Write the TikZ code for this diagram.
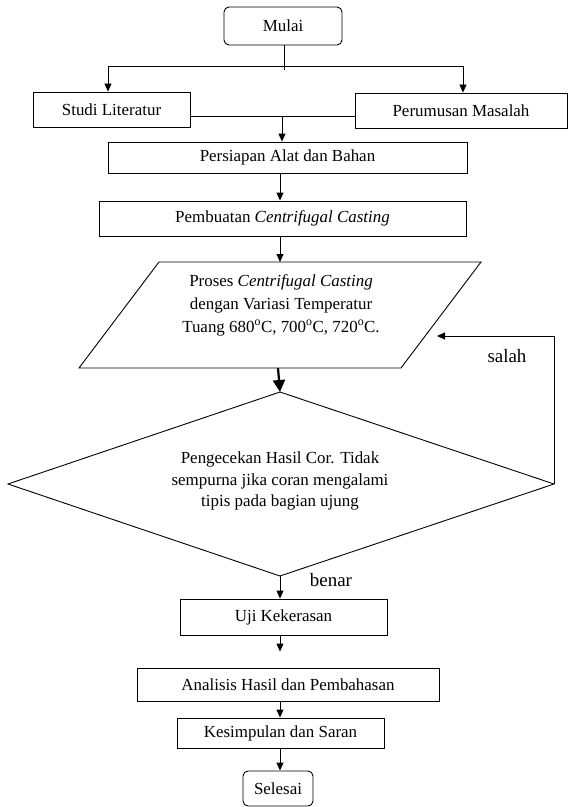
\documentclass[tikz,border=0pt]{standalone}
\usepackage{fontspec}
\setmainfont{Liberation Serif}
\usetikzlibrary{arrows.meta}
\begin{document}
\begin{tikzpicture}[x=1bp,y=-1bp,
  every node/.style={font=\fontsize{17}{23}\selectfont},
  box/.style={draw, line width=0.9bp, inner sep=0pt},
  roundbox/.style={box, rounded corners=5bp},
  arr/.style={line width=0.9bp, -{Triangle[length=8bp,width=7bp]}},
  thickarr/.style={line width=2.2bp, -{Triangle[length=12bp,width=12bp]}},
  ln/.style={line width=0.9bp},
  lbl/.style={font=\fontsize{19}{22}\selectfont}
]
\useasboundingbox (0,0) rectangle (569,807);
% nodes
\node[roundbox, minimum width=118bp, minimum height=38bp] (mulai) at (283,26) {Mulai};
\node[box, minimum width=157bp, minimum height=35bp] (studi) at (111.5,109.5) {Studi Literatur};
\node[box, minimum width=212bp, minimum height=35bp] (peru) at (461,110.5) {Perumusan Masalah};
\node[box, minimum width=359bp, minimum height=31bp] (siap) at (287.5,157.5) {Persiapan Alat dan Bahan};
\node[box, minimum width=367bp, minimum height=35bp] (buat) at (282.5,218.5) {Pembuatan \textit{Centrifugal Casting}};
% parallelogram
\coordinate (pTL) at (159,262);
\coordinate (pTR) at (481,262);
\coordinate (pBR) at (401,368);
\coordinate (pBL) at (79,368);
\draw[ln] (pTL) -- (pTR) -- (pBR) -- (pBL) -- cycle;
\node[align=center] (proses) at (281,305) {Proses \textit{Centrifugal Casting}\\dengan Variasi Temperatur\\Tuang 680\textsuperscript{o}C, 700\textsuperscript{o}C, 720\textsuperscript{o}C.};
% diamond
\coordinate (dT) at (280,392);
\coordinate (dL) at (8,484);
\coordinate (dB) at (280,576);
\coordinate (dR) at (554,484);
\draw[ln] (dT) -- (dR) -- (dB) -- (dL) -- cycle;
\node[align=center, font=\fontsize{17}{22}\selectfont] (cek) at (280,481) {Pengecekan Hasil Cor. Tidak\\sempurna jika coran mengalami\\tipis pada bagian ujung};
\node[box, minimum width=207bp, minimum height=36bp] (uji) at (283.5,617) {Uji Kekerasan};
\node[box, minimum width=302bp, minimum height=33bp] (anal) at (288,684.5) {Analisis Hasil dan Pembahasan};
\node[box, minimum width=207bp, minimum height=30bp] (simp) at (280.5,733) {Kesimpulan dan Saran};
\node[roundbox, minimum width=70bp, minimum height=35bp] (selesai) at (278,788.5) {Selesai};
\node[lbl] (salah) at (507,356) {salah};
\node[lbl] (benar) at (331,580) {benar};
% connectors
\coordinate (ax) at (280,0);
\coordinate (sp) at (284,70);
\coordinate (cL) at (108,66);
\coordinate (cR) at (463,66);
\coordinate (jn) at (282,116);
\coordinate (lp) at (437,336);
\draw[ln] (mulai.south -| sp) -- (sp);
\draw[ln] (cL) -- (cR);
\draw[arr] (cL) -- (cL |- studi.north);
\draw[arr] (cR) -- (cR |- peru.north);
\draw[ln] (studi.east |- jn) -- (peru.west |- jn);
\draw[arr] (jn) -- (jn |- siap.north);
\draw[arr] (siap.south -| ax) -- (buat.north -| ax);
\draw[arr] (buat.south -| ax) -- (pTL -| ax);
\draw[thickarr] (pBL -| 278,0) -- (dT);
\draw[arr] (dB) -- (uji.north -| dB);
\draw[arr, shorten >=16bp] (uji.south -| ax) -- (anal.north -| ax);
\draw[arr] (anal.south -| ax) -- (simp.north -| ax);
\draw[arr] (simp.south -| ax) -- (selesai.north -| ax);
\draw[arr] (dR) |- (lp);
\end{tikzpicture}
\end{document}
